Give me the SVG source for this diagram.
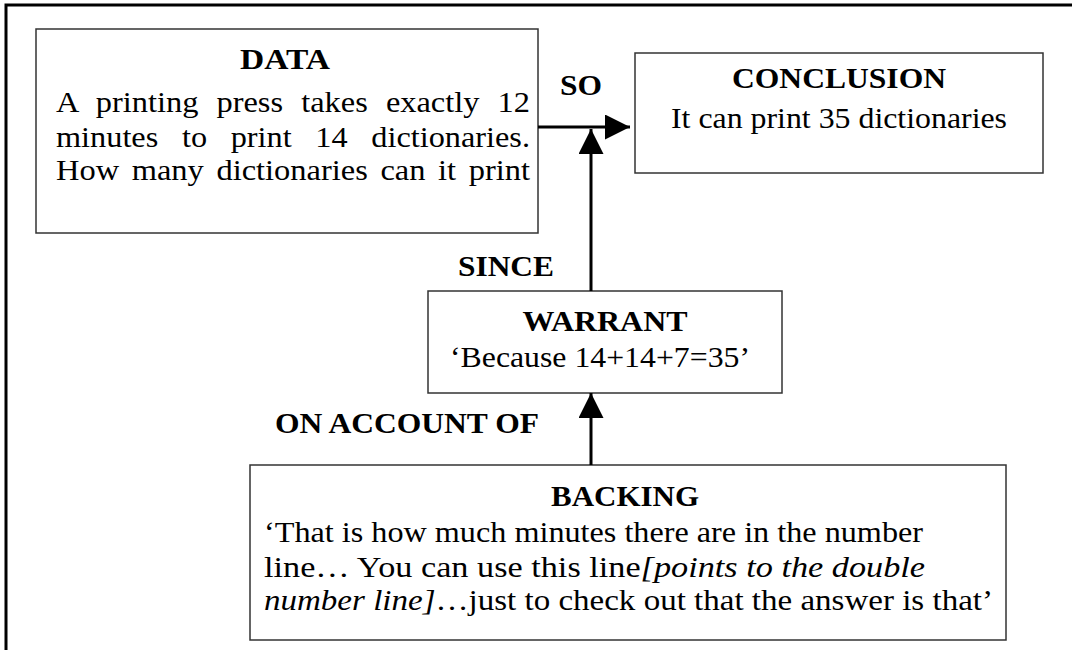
<svg xmlns="http://www.w3.org/2000/svg" width="1072" height="650" viewBox="0 0 1072 650">
<defs>
<style>
.box{fill:#fff;stroke:#333;stroke-width:1.5}
.t{font-size:29px;fill:#000}
.b{font-weight:bold}
.m{text-anchor:middle}
.i{font-style:italic}
.conn{stroke:#000;stroke-width:3;fill:none}
</style>
<marker id="ah" markerUnits="userSpaceOnUse" markerWidth="26" markerHeight="26" refX="25" refY="12.5" orient="auto" viewBox="0 0 26 26">
<path d="M0,0 L25,12.5 L0,25 Z" fill="#000"/>
</marker>
</defs>
<rect width="1072" height="650" fill="#fff"/>
<path d="M6,650 V5 H1072" stroke="#000" stroke-width="3" fill="none"/>

<g font-family="'Liberation Serif', 'Times New Roman', serif">
<g id="data">
<rect class="box" x="36" y="29" width="502" height="204"/>
<text class="t b m" x="285" y="69" textLength="90" lengthAdjust="spacingAndGlyphs">DATA</text>
<text class="t" x="56" y="112" word-spacing="9" textLength="474" lengthAdjust="spacingAndGlyphs">A printing press takes exactly 12</text>
<text class="t" x="56" y="147" word-spacing="14" textLength="474" lengthAdjust="spacingAndGlyphs">minutes to print 14 dictionaries.</text>
<text class="t" x="56" y="180" word-spacing="4" textLength="474" lengthAdjust="spacingAndGlyphs">How many dictionaries can it print</text>
</g>

<g id="conclusion">
<rect class="box" x="635" y="53" width="408" height="120"/>
<text class="t b m" x="839" y="88" textLength="214" lengthAdjust="spacingAndGlyphs">CONCLUSION</text>
<text class="t m" x="839" y="128" textLength="336" lengthAdjust="spacingAndGlyphs">It can print 35 dictionaries</text>
</g>

<g id="warrant">
<rect class="box" x="428" y="291" width="354" height="102"/>
<text class="t b m" x="605" y="331" textLength="165" lengthAdjust="spacingAndGlyphs">WARRANT</text>
<text class="t" x="450" y="367" textLength="300" lengthAdjust="spacingAndGlyphs">‘Because 14+14+7=35’</text>
</g>

<g id="backing">
<rect class="box" x="250" y="465" width="756" height="175"/>
<text class="t b m" x="625" y="506" textLength="148" lengthAdjust="spacingAndGlyphs">BACKING</text>
<text class="t" x="264" y="542" textLength="659" lengthAdjust="spacingAndGlyphs">‘That is how much minutes there are in the number</text>
<text class="t" x="264" y="577" textLength="661" lengthAdjust="spacingAndGlyphs">line… You can use this line<tspan class="i">[points to the double</tspan></text>
<text class="t" x="264" y="610" textLength="729" lengthAdjust="spacingAndGlyphs"><tspan class="i">number line]</tspan>…just to check out that the answer is that’</text>
</g>

<g id="connectors">
<line class="conn" x1="538" y1="127" x2="630" y2="127" marker-end="url(#ah)"/>
<line class="conn" x1="591" y1="291" x2="591" y2="129" marker-end="url(#ah)"/>
<line class="conn" x1="591" y1="465" x2="591" y2="393" marker-end="url(#ah)"/>
</g>

<g id="labels">
<text class="t b" x="560" y="95" textLength="42" lengthAdjust="spacingAndGlyphs">SO</text>
<text class="t b" x="458" y="276" textLength="96" lengthAdjust="spacingAndGlyphs">SINCE</text>
<text class="t b" x="275" y="433" textLength="264" lengthAdjust="spacingAndGlyphs">ON ACCOUNT OF</text>
</g>
</g>
</svg>
